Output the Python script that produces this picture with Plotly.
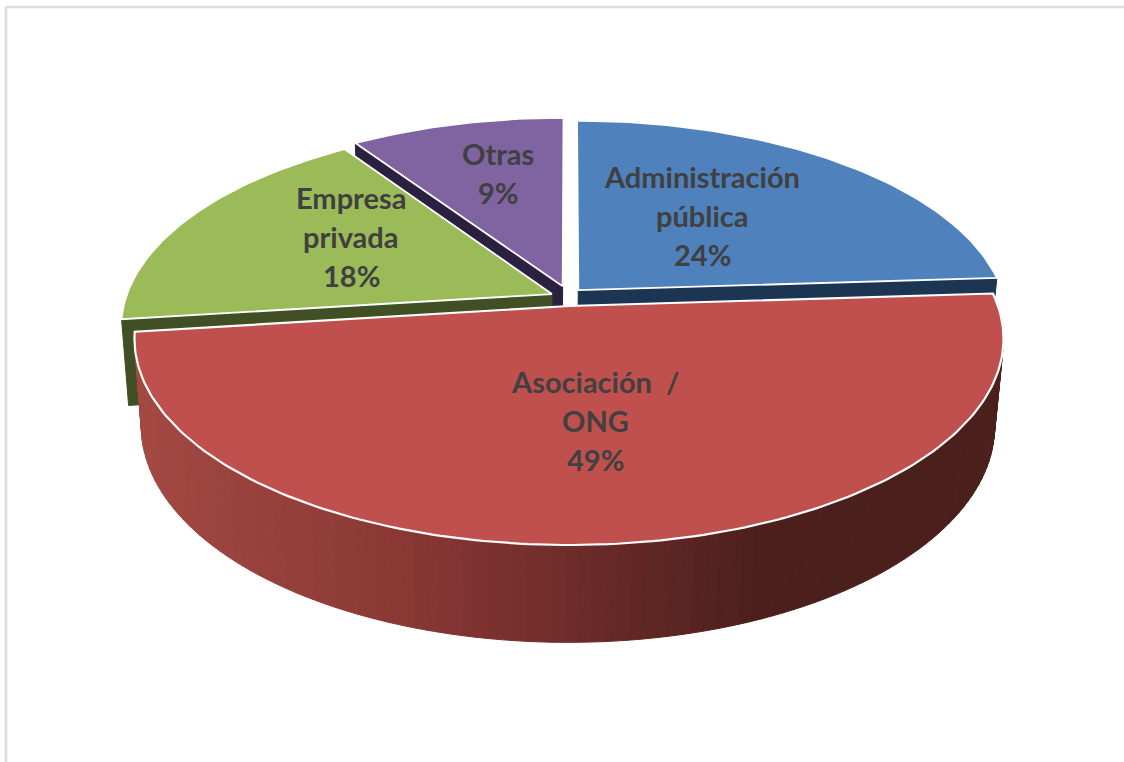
import math
import plotly.graph_objects as go

# ---- data ----
categories = ["Administración pública", "Asociación / ONG", "Empresa privada", "Otras"]
values = [24, 49, 17.6, 9.4]
label_lines = [["Administración", "pública"], ["Asociación  /", "ONG"], ["Empresa", "privada"], ["Otras"]]
top_colors = ["#4f81bd", "#c0504d", "#9bbb59", "#8064a2"]
wall_colors = ["#1c3553", "#4a1f1c", "#404f24", "#2b2040"]
# explosion offsets on the unit disc (x to the right, y toward the viewer)
offsets = [(0.022, -0.08), (0.0, 0.0), (-0.04, -0.06), (-0.015, -0.1)]
label_anchor = [(702, 176), (595, 381), (351, 197), (498, 153)]

# ---- view ----
CX, CY, A, B, K = 569, 306, 429, 201, 0.159
DEPTH, SHRINK, SKEW = 85.5, 0.018, -1
LINE_H = 39


def proj(X, Y, z=0.0):
    s = 1 / (1 - K * Y)
    f = 1 - SHRINK * z
    return CX + A * X * s * f + SKEW * z, CY + B * Y * s * f + DEPTH * z * s


def rim(i, t, z=0.0):
    """t in degrees clockwise from 12 o'clock on slice i's disc."""
    r = math.radians(t)
    ox, oy = offsets[i]
    return proj(ox + math.sin(r), oy - math.cos(r), z)


def apex(i, z=0.0):
    return proj(offsets[i][0], offsets[i][1], z)


total = sum(values)
bounds = [0.0]
for v in values:
    bounds.append(bounds[-1] + 360 * v / total)

fig = go.Figure()


def poly(pts, fill, line=None, width=1.0):
    xs = [p[0] for p in pts] + [pts[0][0]]
    ys = [p[1] for p in pts] + [pts[0][1]]
    fig.add_trace(go.Scatter(x=xs, y=ys, mode="lines", fill="toself", fillcolor=fill,
                             line=dict(color=line or fill, width=width),
                             hoverinfo="skip", showlegend=False))


def top(i, width=1.8):
    a0, a1 = bounds[i], bounds[i + 1]
    n = max(8, int(a1 - a0))
    arc = [rim(i, a0 + (a1 - a0) * j / n) for j in range(n + 1)]
    poly([apex(i)] + arc, top_colors[i], "#ffffff", width)


def cut_face(i, t):
    poly([apex(i), rim(i, t), rim(i, t, 1), apex(i, 1)], wall_colors[i])


# cut faces behind the tops
cut_face(3, bounds[3])
cut_face(0, bounds[1])
cut_face(2, bounds[2])
for i in (3, 0, 2):
    top(i)

# red outer wall, shaded left to right
ramp = [(140, (163, 72, 67)), (400, (138, 56, 52)), (600, (104, 42, 40)), (760, (76, 31, 28)), (1010, (74, 31, 28))]


def shade(x):
    for (x0, c0), (x1, c1) in zip(ramp, ramp[1:]):
        if x <= x1:
            u = max(0.0, (x - x0) / (x1 - x0))
            return "rgb(%d,%d,%d)" % tuple(round(a + (b - a) * u) for a, b in zip(c0, c1))
    return "rgb(%d,%d,%d)" % ramp[-1][1]


a0, a1 = bounds[1], bounds[2]
N = 120
for j in range(N):
    t0 = a0 + (a1 - a0) * j / N
    t1 = a0 + (a1 - a0) * (j + 1) / N
    p = rim(1, t0)
    q = rim(1, t1)
    poly([p, q, rim(1, t1, 1), rim(1, t0, 1)], shade((p[0] + q[0]) / 2), None, 1.0)
top(1, 2.2)

# labels
annotations = []
for i, lines in enumerate(label_lines):
    x, y = label_anchor[i]
    for j, txt in enumerate(lines + ["%d%%" % round(100 * values[i] / total)]):
        annotations.append(dict(x=x, y=y + j * LINE_H, xref="x", yref="y", text=txt, showarrow=False,
                                xanchor="center", yanchor="middle",
                                font=dict(family="Lato", size=29, color="#404040", weight="bold")))

frame = [
    dict(type="line", xref="paper", yref="paper", x0=6 / 1124, x1=6 / 1124, y0=0, y1=1 - 7 / 762,
         line=dict(color="#dcdcdc", width=2.5)),
    dict(type="line", xref="paper", yref="paper", x0=6 / 1124, x1=1, y0=1 - 7 / 762, y1=1 - 7 / 762,
         line=dict(color="#dcdcdc", width=2.5)),
]

fig.update_layout(width=1124, height=762, margin=dict(l=0, r=0, t=0, b=0),
                  paper_bgcolor="#ffffff", plot_bgcolor="#ffffff", showlegend=False,
                  xaxis=dict(range=[0, 1124], visible=False, fixedrange=True),
                  yaxis=dict(range=[762, 0], visible=False, fixedrange=True),
                  annotations=annotations, shapes=frame)
fig.write_html("out.html", config={"displayModeBar": False},
               post_script="document.body.style.margin='0';document.documentElement.style.overflow='hidden';")
